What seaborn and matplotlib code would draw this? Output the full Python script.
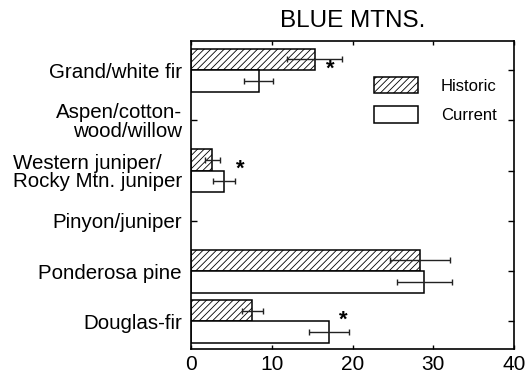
import numpy as np
import pandas as pd
import matplotlib
matplotlib.use("Agg")
import matplotlib.pyplot as plt
import seaborn as sns
from matplotlib.patches import Patch

categories = ["Grand/white fir", "Aspen/cotton-\nwood/willow",
              "Western juniper/\nRocky Mtn. juniper", "Pinyon/juniper",
              "Ponderosa pine", "Douglas-fir"]
periods = ["Historic", "Current"]

# values (percent) per category; NaN = no bar
historic = [15.3, np.nan, 2.65, np.nan, 28.4, 7.6]
historic_err = [3.35, np.nan, 0.9, np.nan, 3.7, 1.3]
current = [8.4, np.nan, 4.1, np.nan, 28.9, 17.1]
current_err = [1.8, np.nan, 1.35, np.nan, 3.4, 2.45]
# x position of significance asterisks (None = not significant)
sig_x = [17.2, None, 6.1, None, None, 18.9]
xticks = [0, 10, 20, 30, 40]
title = "BLUE MTNS."

sns.set_theme(style="white")
plt.rcParams['font.family'] = ['Liberation Sans', 'DejaVu Sans']
plt.rcParams['hatch.linewidth'] = 0.6
plt.rcParams['hatch.color'] = '#222222'
plt.rcParams['text.color'] = 'black'
plt.rcParams['xtick.color'] = 'black'
plt.rcParams['ytick.color'] = 'black'
plt.rcParams['axes.labelcolor'] = 'black'

rows = []
for c, h, he, cu, ce in zip(categories, historic, historic_err, current, current_err):
    if not np.isnan(h):
        rows.append(dict(cat=c, period="Historic", val=h, err=he))
    if not np.isnan(cu):
        rows.append(dict(cat=c, period="Current", val=cu, err=ce))
df = pd.DataFrame(rows)

fig = plt.figure(figsize=(5.27, 3.79), dpi=100)
ax = fig.add_axes([191/527, 1 - 349.3/379, 323/527, 308.8/379])

sns.barplot(data=df, x="val", y="cat", hue="period", order=categories,
            hue_order=periods, orient="h", width=0.86, gap=0,
            palette=["white", "white"], edgecolor="black", linewidth=1.1,
            errorbar=None, ax=ax, legend=False)

for container, period in zip(ax.containers, periods):
    sub = df[df.period == period].set_index("cat")
    for patch in container.patches:
        if period == "Historic":
            patch.set_hatch("/////")
    ys = [p.get_y() + p.get_height() / 2 for p in container.patches]
    ws = [p.get_width() for p in container.patches]
    present = [c for c in categories if c in sub.index]
    errs = [sub.loc[c, "err"] for c in present]
    ax.errorbar(ws, ys, xerr=errs, fmt="none", ecolor="#222222",
                elinewidth=1.0, capsize=2.5, capthick=1.0)

for i, sx in enumerate(sig_x):
    if sx is not None:
        ax.text(sx, i - 0.02, "*", ha="center", va="center",
                fontsize=16, fontweight="bold", color="black")

ax.set_xlim(0, 40)
ax.set_ylim(5.557, -0.593)
ax.set_xticks(xticks)
ax.set_xlabel("")
ax.set_ylabel("")
ax.tick_params(axis="x", direction="in", top=True, bottom=True, length=3,
               width=1, labelsize=15, pad=4, color="black", labelcolor="black")
ax.tick_params(axis="y", direction="in", left=True, right=True, length=4,
               width=1, labelsize=14.8, pad=6.5, color="black", labelcolor="black")
for lab in ax.get_yticklabels():
    lab.set_linespacing(0.95)
    if lab.get_text().startswith("Western"):
        lab.set_multialignment("left")
for s in ax.spines.values():
    s.set_visible(True)
    s.set_color("black")
    s.set_linewidth(1.2)

ax.set_title(title, fontsize=17.5, pad=9.5, color="black")

handles = [Patch(facecolor="white", edgecolor="black", hatch="/////", linewidth=1.1),
           Patch(facecolor="white", edgecolor="black", linewidth=1.1)]
leg = ax.legend(handles, periods, loc="upper left", bbox_to_anchor=(0.5675, 0.883),
                frameon=False, fontsize=12, handlelength=2.64, handleheight=1.17,
                handletextpad=1.34, labelspacing=0.77, borderpad=0, borderaxespad=0)
for t in leg.get_texts():
    t.set_color("black")

fig.savefig("out.png", dpi=100)
